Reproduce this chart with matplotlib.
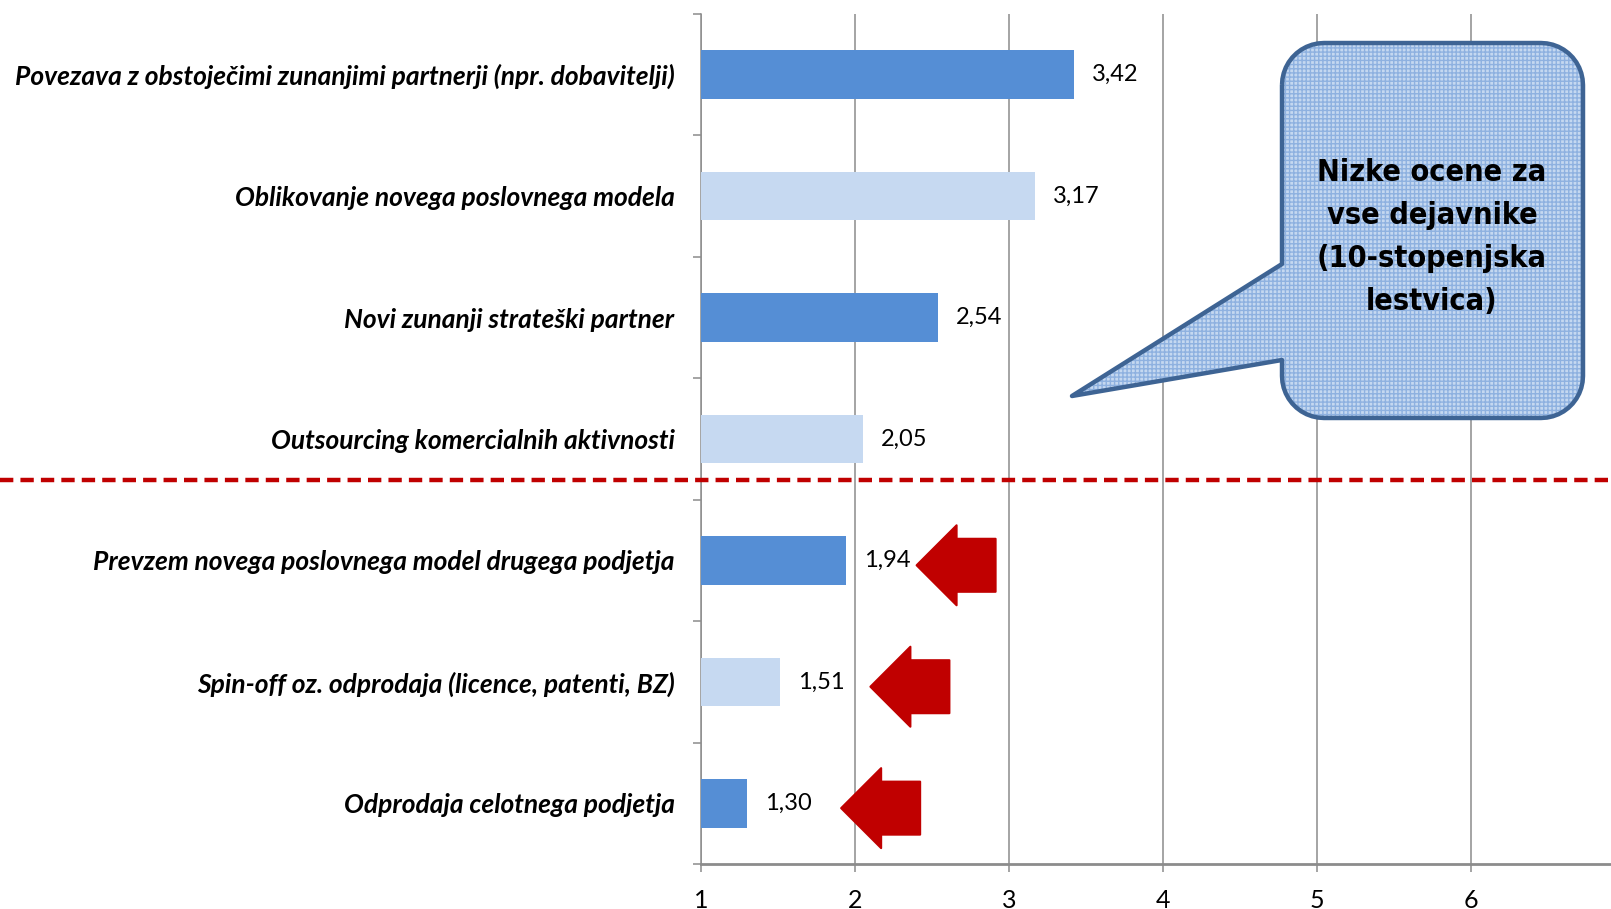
import numpy as np
import matplotlib
matplotlib.use("Agg")
import matplotlib.pyplot as plt
from matplotlib.patches import PathPatch, FancyArrow
from matplotlib.path import Path
from matplotlib.lines import Line2D
import matplotlib.transforms as mtransforms
from matplotlib import font_manager

# data
categories = [
    "Povezava z obstoječimi zunanjimi partnerji (npr. dobavitelji)",
    "Oblikovanje novega poslovnega modela",
    "Novi zunanji strateški partner",
    "Outsourcing komercialnih aktivnosti",
    "Prevzem novega poslovnega model drugega podjetja",
    "Spin-off oz. odprodaja (licence, patenti, BZ)",
    "Odprodaja celotnega podjetja",
]
values = [3.42, 3.17, 2.54, 2.05, 1.94, 1.51, 1.30]
value_labels = ["3,42", "3,17", "2,54", "2,05", "1,94", "1,51", "1,30"]
x_ticks = [1, 2, 3, 4, 5, 6]

# red arrows point at the lowest three bars
arrow_rows = [4, 5, 6]
arrow_tips = [2.40, 2.10, 1.91]

callout_text = "Nizke ocene za\nvse dejavnike\n(10-stopenjska\nlestvica)"

dark = "#558ED5"
light = "#C6D9F1"
grey = "#8C8C8C"

# a condensed bold face looks closest to the callout text, if one is there
box_font, box_stretch, box_size, box_ls = "Liberation Sans", "normal", 23.5, 1.55
for f in font_manager.fontManager.ttflist:
    if f.name == "Liberation Sans Narrow":
        box_font, box_stretch, box_size, box_ls = f.name, "normal", 26, 1.4
        break
    if f.name == "DejaVu Sans" and f.stretch == "condensed":
        box_font, box_stretch, box_size, box_ls = f.name, "condensed", 22, 1.6

W, H = 1611, 909
fig = plt.figure(figsize=(W / 100, H / 100), dpi=100)
ax = fig.add_axes([701 / W, 45 / H, (1625 - 701) / W, 850 / H])

y = np.arange(len(categories))
colors = [dark if i % 2 == 0 else light for i in range(len(categories))]
ax.barh(y, np.array(values) - 1, left=1, height=0.40, color=colors, zorder=3)

ax.set_xlim(1, 7)
ax.set_ylim(len(categories) - 0.5, -0.5)
ax.set_xticks(x_ticks)
ax.set_xticklabels([str(t) for t in x_ticks], fontsize=18, family="Lato")
ax.set_yticks(y)
ax.set_yticklabels(categories, fontsize=19, family="Lato",
                   fontweight="bold", style="italic")
ax.set_yticks(np.arange(-0.5, len(categories)), minor=True)
ax.tick_params(axis="y", which="major", length=0, pad=19)
ax.tick_params(axis="y", which="minor", length=6, width=1.1, color=grey)
ax.tick_params(axis="x", length=6, width=1.1, color=grey, pad=12)
ax.xaxis.grid(True, color=grey, linewidth=1.1, zorder=0)
ax.set_axisbelow(True)
for s in ["top", "right"]:
    ax.spines[s].set_visible(False)
ax.spines["left"].set_color(grey)
ax.spines["left"].set_linewidth(1.1)
ax.spines["bottom"].set_color(grey)
ax.spines["bottom"].set_linewidth(2)

for yi, v, lab in zip(y, values, value_labels):
    ax.annotate(lab, (v, yi), xytext=(13, 0), textcoords="offset points",
                va="center", ha="left", fontsize=17, family="Lato")

# red block arrows
px_x = 154.0   # pixels per x unit
px_y = 850 / 7  # pixels per row
for r, tip in zip(arrow_rows, arrow_tips):
    tail = tip + 79 / px_x
    arr = FancyArrow(tail, r + 0.04, tip - tail, 0, width=53 / px_y,
                     head_width=80 / px_y, head_length=40 / px_x,
                     length_includes_head=True, color="#C00000",
                     joinstyle="round", linewidth=1.5, zorder=5)
    ax.add_patch(arr)

# dashed red separator across the whole figure
tr = mtransforms.blended_transform_factory(fig.transFigure, ax.transData)
fig.add_artist(Line2D([0, 1], [3.34, 3.34], transform=tr, color="#C00000",
                      linestyle=(0, (3, 1.6)), linewidth=3.2))

# callout bubble (pixel coordinates from the top-left)
L, R, T, B, rad = 1282, 1583, 43, 418, 42
pts = []
def arc(cx, cy, a0, a1):
    for a in np.linspace(a0, a1, 12):
        pts.append((cx + rad * np.cos(a), cy + rad * np.sin(a)))
arc(L + rad, T + rad, np.pi, 1.5 * np.pi)
arc(R - rad, T + rad, 1.5 * np.pi, 2 * np.pi)
arc(R - rad, B - rad, 0, 0.5 * np.pi)
arc(L + rad, B - rad, 0.5 * np.pi, np.pi)
pts += [(L, 360), (1072, 396), (L, 264)]
pts.append(pts[0])
pts = np.array(pts, dtype=float)
fx = pts[:, 0] / W
fy = 1 - pts[:, 1] / H
path = Path(np.column_stack([fx, fy]))
fig.add_artist(PathPatch(path, transform=fig.transFigure, facecolor="#C5D8F0",
                         edgecolor="#8EB1E0", hatch="++++", linewidth=0,
                         zorder=6))
fig.add_artist(PathPatch(path, transform=fig.transFigure, facecolor="none",
                         edgecolor="#3E6494", linewidth=3.2, zorder=7,
                         joinstyle="round"))
fig.text(1432 / W, 1 - 237 / H, callout_text, ha="center", va="center",
         fontsize=box_size, fontweight="bold", family=box_font,
         fontstretch=box_stretch, linespacing=box_ls, zorder=8)

fig.savefig("out.png", dpi=100)
